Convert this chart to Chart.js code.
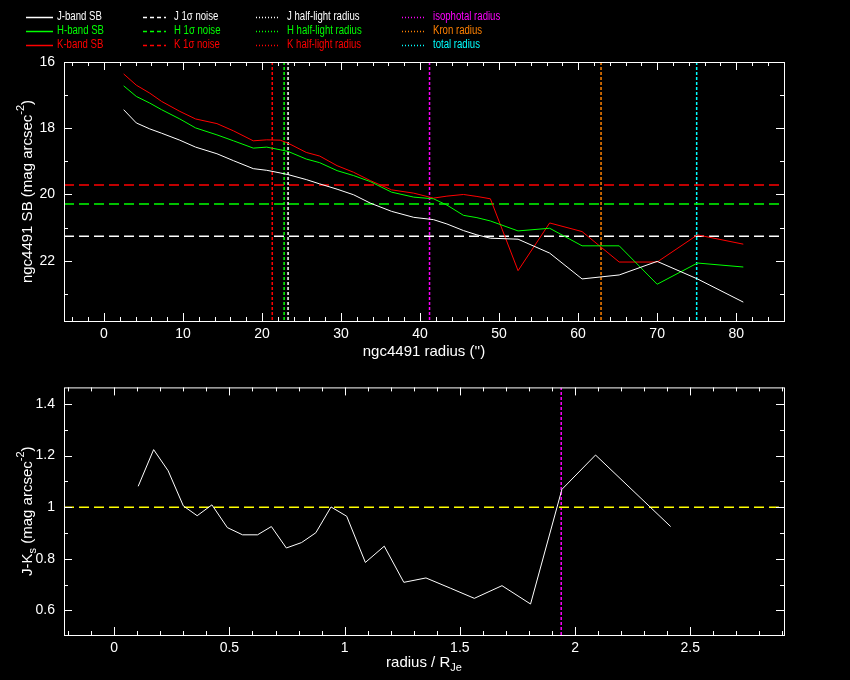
<!DOCTYPE html>
<html>
<head>
<meta charset="utf-8">
<script src="https://cdn.jsdelivr.net/npm/chart.js@4.4.0/dist/chart.umd.min.js"></script>
<style>
  html, body { margin: 0; padding: 0; background: #000; }
  #wrap { position: relative; width: 850px; height: 680px; background: #000; }
  canvas { position: absolute; left: 0; }
</style>
</head>
<body>
<div id="wrap">
  <canvas id="sbChart" width="850" height="370" style="top:0px"></canvas>
  <canvas id="colChart" width="850" height="310" style="top:370px"></canvas>
</div>
<script>
// surface brightness profiles (radius in arcsec, SB in mag arcsec^-2)
const radius = [2.5, 4.1, 5.8, 7.3, 9.6, 11.6, 14.3, 16.4, 18.9, 20.6, 22.3, 23.3, 25.6, 27.3, 29.5, 31.6,
  33.7, 36.4, 39.2, 41.7, 43.4, 45.5, 47.2, 48.9, 52.4, 56.4, 60.5, 65.2, 70.0, 75.1, 80.9];
const sbJ = [17.44, 17.84, 18.02, 18.15, 18.36, 18.57, 18.77, 18.98, 19.22, 19.27, 19.35, 19.40, 19.55, 19.68, 19.84, 20.01,
  20.26, 20.51, 20.69, 20.76, 20.89, 21.09, 21.22, 21.32, 21.35, 21.77, 22.55, 22.43, 22.02, 22.55, 23.25];
const sbH = [16.72, 17.04, 17.24, 17.44, 17.72, 17.99, 18.20, 18.38, 18.60, 18.57, 18.65, 18.70, 18.93, 19.04, 19.28, 19.43,
  19.61, 19.93, 20.08, 20.13, 20.32, 20.63, 20.70, 20.80, 21.10, 21.02, 21.55, 21.55, 22.71, 22.07, 22.19];
const sbK = [16.36, 16.70, 16.94, 17.19, 17.49, 17.72, 17.86, 18.08, 18.38, 18.35, 18.36, 18.45, 18.73, 18.84, 19.13, 19.33,
  19.58, 19.86, 19.96, 20.11, 20.05, 20.00, 20.06, 20.13, 22.30, 20.86, 21.12, 22.04, 22.04, 21.22, 21.50];

// 1 sigma noise levels J, H, K
const noiseLevel = [21.26, 20.29, 19.71];
// half-light radii J, H, K
const halfLight = [23.3, 22.8, 21.3];
// isophotal, Kron, total radius
const apertureNames = ['isophotal radius', 'Kron radius', 'total radius'];
const apertureRadius = [41.2, 62.9, 75.0];

// J-Ks colour profile
const rNorm = [0.104, 0.171, 0.234, 0.300, 0.360, 0.424, 0.491, 0.557, 0.622, 0.682, 0.747, 0.813, 0.875,
  0.941, 1.009, 1.090, 1.172, 1.257, 1.353, 1.46, 1.563, 1.683, 1.807, 1.943, 2.089, 2.415];
const jk = [1.081, 1.223, 1.141, 1.005, 0.967, 1.009, 0.921, 0.893, 0.893, 0.925, 0.842, 0.863, 0.901,
  1.001, 0.965, 0.786, 0.849, 0.709, 0.726, 0.686, 0.647, 0.696, 0.625, 1.069, 1.202, 0.925];
const jkRef = 1.0;
const jkMarker = 1.94;

// tick labels
const sbXTicks = [0, 10, 20, 30, 40, 50, 60, 70, 80];
const sbYTicks = [16, 18, 20, 22];
const colXTicks = [0, 0.5, 1, 1.5, 2, 2.5];
const colYTicks = [0.6, 0.8, 1, 1.2, 1.4];

// axis limits
const SB_X = [-5.05, 86.05], SB_Y = [16, 23.82];
const COL_X = [-0.218, 2.907], COL_Y = [0.505, 1.464];

const bands = ['J', 'H', 'K'];
const bandColors = ['#ffffff', '#00ff00', '#ff0000'];
const apertureColors = ['#ff00ff', '#ff8000', '#00ffff'];
const FONT = '"Liberation Sans", Arial, sans-serif';

Chart.defaults.color = '#ffffff';
Chart.defaults.font.family = FONT;

function line(data, color, dash, width) {
  return {
    data: data,
    borderColor: color,
    borderWidth: width || 1,
    borderDash: dash || [],
    pointRadius: 0,
    showLine: true,
    tension: 0,
    fill: false
  };
}

// draws text with sub/superscript pieces, centred on (cx, cy)
function drawRich(ctx, parts, cx, cy, size) {
  let total = 0;
  parts.forEach(p => {
    ctx.font = ((p.sub || p.sup) ? Math.round(size * 0.7) : size) + 'px ' + FONT;
    p.w = ctx.measureText(p.t).width;
    total += p.w;
  });
  let x = cx - total / 2;
  parts.forEach(p => {
    ctx.font = ((p.sub || p.sup) ? Math.round(size * 0.7) : size) + 'px ' + FONT;
    const dy = p.sup ? -size * 0.45 : (p.sub ? size * 0.35 : 0);
    ctx.fillText(p.t, x, cy + dy);
    x += p.w;
  });
}

// box with inward major / minor ticks on all four sides
const frameTicks = {
  id: 'frameTicks',
  afterDatasetsDraw(chart, args, opts) {
    const { ctx, chartArea: a, scales: { x, y } } = chart;
    ctx.save();
    ctx.strokeStyle = '#ffffff';
    ctx.lineWidth = 1;
    ctx.setLineDash([]);
    ctx.strokeRect(a.left + 0.5, a.top + 0.5, a.right - a.left, a.bottom - a.top);

    function marks(scale, step) {
      const lo = Math.min(scale.min, scale.max), hi = Math.max(scale.min, scale.max);
      const out = [];
      for (let i = Math.ceil(lo / step - 1e-9); i * step <= hi + 1e-9; i++) out.push(i * step);
      return out;
    }
    function isMajor(v, major) {
      return Math.abs(v / major - Math.round(v / major)) < 1e-6;
    }
    ctx.beginPath();
    marks(x, opts.xMinor).forEach(v => {
      const len = isMajor(v, opts.xMajor) ? 8 : 4;
      const px = Math.round(x.getPixelForValue(v)) + 0.5;
      ctx.moveTo(px, a.bottom); ctx.lineTo(px, a.bottom - len);
      ctx.moveTo(px, a.top); ctx.lineTo(px, a.top + len);
    });
    marks(y, opts.yMinor).forEach(v => {
      const len = isMajor(v, opts.yMajor) ? 8 : 4;
      const py = Math.round(y.getPixelForValue(v)) + 0.5;
      ctx.moveTo(a.left, py); ctx.lineTo(a.left + len, py);
      ctx.moveTo(a.right, py); ctx.lineTo(a.right - len, py);
    });
    ctx.stroke();

    // axis titles
    ctx.fillStyle = '#ffffff';
    ctx.textBaseline = 'middle';
    ctx.textAlign = 'left';
    drawRich(ctx, opts.xTitle, (a.left + a.right) / 2, opts.xTitleY, 15);
    ctx.translate(opts.yTitleX, (a.top + a.bottom) / 2);
    ctx.rotate(-Math.PI / 2);
    drawRich(ctx, opts.yTitle, 0, 0, 15);
    ctx.restore();
  }
};

// legend in the top margin, laid out in columns
const legendGrid = {
  id: 'legendGrid',
  afterDraw(chart, args, opts) {
    const { ctx } = chart;
    chart.data.datasets.forEach(ds => {
      if (!ds.legendPos) return;
      const [col, row] = ds.legendPos;
      const yy = opts.rows[row] + 0.5;
      const x0 = opts.lineStart[col], x1 = opts.lineEnd[col];
      ctx.save();
      ctx.lineWidth = 1.5;
      ctx.strokeStyle = ds.borderColor;
      ctx.setLineDash(ds.legendDash || []);
      ctx.beginPath();
      ctx.moveTo(x0, yy); ctx.lineTo(x1, yy);
      ctx.stroke();
      // narrow lettering like the plotting package's stroke font
      ctx.font = '12px ' + FONT;
      ctx.textBaseline = 'middle';
      ctx.textAlign = 'left';
      ctx.fillStyle = ds.borderColor;
      ctx.translate(opts.textStart[col], opts.rows[row]);
      ctx.scale(0.8, 1);
      ctx.fillText(ds.label, 0, 0);
      ctx.restore();
    });
  }
};

function fixedTicks(values) {
  return function (scale) { scale.ticks = values.map(v => ({ value: v })); };
}
const fmt = v => String(Math.round(v * 100) / 100);

// ---------- top panel: SB profiles ----------
const sbDatasets = [];
bands.forEach((b, k) => {
  const series = [sbJ, sbH, sbK][k];
  const ds = line(radius.map((r, i) => ({ x: r, y: series[i] })), bandColors[k]);
  ds.label = b + '-band SB';
  ds.legendPos = [0, k];
  sbDatasets.push(ds);
});
bands.forEach((b, k) => {
  const ds = line([{ x: SB_X[0], y: noiseLevel[k] }, { x: SB_X[1], y: noiseLevel[k] }], bandColors[k], [10, 5], 1.5);
  ds.label = b + ' 1\u03c3 noise';
  ds.legendPos = [1, k];
  ds.legendDash = [4, 3];
  sbDatasets.push(ds);
});
bands.forEach((b, k) => {
  const ds = line([{ x: halfLight[k], y: SB_Y[0] }, { x: halfLight[k], y: SB_Y[1] }], bandColors[k], [3, 2], 1.5);
  ds.label = b + ' half-light radius';
  ds.legendPos = [2, k];
  ds.legendDash = [1, 2];
  sbDatasets.push(ds);
});
apertureNames.forEach((name, k) => {
  const ds = line([{ x: apertureRadius[k], y: SB_Y[0] }, { x: apertureRadius[k], y: SB_Y[1] }], apertureColors[k], [3, 2], 1.5);
  ds.label = name;
  ds.legendPos = [3, k];
  ds.legendDash = [1, 2];
  sbDatasets.push(ds);
});

new Chart(document.getElementById('sbChart'), {
  type: 'scatter',
  data: { datasets: sbDatasets },
  plugins: [frameTicks, legendGrid],
  options: {
    responsive: false,
    animation: false,
    devicePixelRatio: 1,
    layout: { padding: { left: 0, right: 66, top: 62, bottom: 0 } },
    scales: {
      x: {
        type: 'linear', min: SB_X[0], max: SB_X[1],
        grid: { display: false, drawTicks: false },
        border: { display: false },
        afterBuildTicks: fixedTicks(sbXTicks),
        afterFit: s => { s.height = 49; },
        ticks: { padding: 5, maxRotation: 0, font: { size: 14 }, callback: fmt }
      },
      y: {
        type: 'linear', reverse: true, min: SB_Y[0], max: SB_Y[1],
        grid: { display: false, drawTicks: false },
        border: { display: false },
        afterBuildTicks: fixedTicks(sbYTicks),
        afterFit: s => { s.width = 64; },
        ticks: { padding: 9, font: { size: 14 }, callback: fmt }
      }
    },
    plugins: {
      legend: { display: false },
      tooltip: { enabled: false },
      frameTicks: {
        xMajor: 10, xMinor: 2, yMajor: 2, yMinor: 1,
        xTitle: [{ t: "ngc4491 radius ('')" }], xTitleY: 352,
        yTitle: [{ t: 'ngc4491 SB (mag arcsec' }, { t: '-2', sup: true }, { t: ')' }], yTitleX: 28
      },
      legendGrid: {
        rows: [17, 31, 45],
        lineStart: [26, 143, 256, 402],
        lineEnd: [53, 166, 280, 426],
        textStart: [57, 174, 287, 433]
      }
    }
  }
});

// ---------- bottom panel: J-Ks colour ----------
new Chart(document.getElementById('colChart'), {
  type: 'scatter',
  data: {
    datasets: [
      Object.assign(line(rNorm.map((r, i) => ({ x: r, y: jk[i] })), '#ffffff'), { label: 'J-Ks' }),
      Object.assign(line([{ x: COL_X[0], y: jkRef }, { x: COL_X[1], y: jkRef }], '#ffff00', [10, 5], 1.5), { label: 'reference' }),
      Object.assign(line([{ x: jkMarker, y: COL_Y[0] }, { x: jkMarker, y: COL_Y[1] }], '#ff00ff', [3, 2], 1.5), { label: 'isophotal radius' })
    ]
  },
  plugins: [frameTicks],
  options: {
    responsive: false,
    animation: false,
    devicePixelRatio: 1,
    layout: { padding: { left: 0, right: 66, top: 6, bottom: 0 } },
    scales: {
      x: {
        type: 'linear', min: COL_X[0], max: COL_X[1],
        grid: { display: false, drawTicks: false },
        border: { display: false },
        afterBuildTicks: fixedTicks(colXTicks),
        afterFit: s => { s.height = 45; },
        ticks: { padding: 5, maxRotation: 0, font: { size: 14 }, callback: fmt }
      },
      y: {
        type: 'linear', min: COL_Y[0], max: COL_Y[1],
        grid: { display: false, drawTicks: false },
        border: { display: false },
        afterBuildTicks: fixedTicks(colYTicks),
        afterFit: s => { s.width = 64; },
        ticks: { padding: 9, font: { size: 14 }, callback: fmt }
      }
    },
    plugins: {
      legend: { display: false },
      tooltip: { enabled: false },
      frameTicks: {
        xMajor: 0.5, xMinor: 0.1, yMajor: 0.2, yMinor: 0.1,
        xTitle: [{ t: 'radius / R' }, { t: 'Je', sub: true }], xTitleY: 293,
        yTitle: [{ t: 'J-K' }, { t: 's', sub: true }, { t: ' (mag arcsec' }, { t: '-2', sup: true }, { t: ')' }], yTitleX: 28
      }
    }
  }
});
</script>
</body>
</html>
